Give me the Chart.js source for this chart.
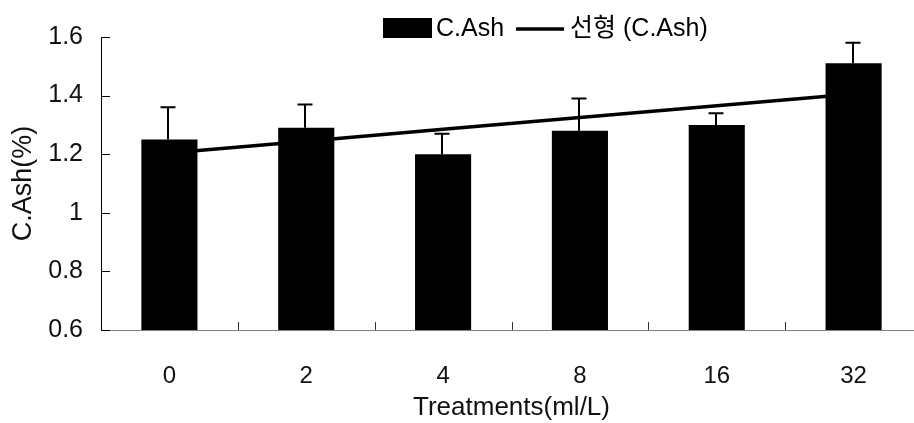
<!DOCTYPE html>
<html>
<head>
<meta charset="utf-8">
<script src="https://cdn.jsdelivr.net/npm/chart.js@4/dist/chart.umd.min.js"></script>
<style>
  html, body { margin: 0; padding: 0; background: #fff; overflow: hidden; }
  #wrap { width: 922px; height: 423px; position: relative; }
</style>
</head>
<body>
<div id="wrap"><canvas id="chart"></canvas></div>
<script>
// Crude ash content by treatment concentration
const categories = ['0', '2', '4', '8', '16', '32'];
const ashMean = [1.25, 1.29, 1.20, 1.28, 1.30, 1.51];
const ashSD = [0.11, 0.08, 0.07, 0.11, 0.04, 0.07];
const yTickLabels = ['0.6', '0.8', '1', '1.2', '1.4', '1.6'];

const FONT = "'Liberation Sans', 'Noto Sans CJK KR', Arial, sans-serif";

// Least-squares linear trend of the means over category index
function linearTrend(values) {
  const n = values.length;
  const xs = values.map((_, i) => i);
  const mx = xs.reduce((a, b) => a + b, 0) / n;
  const my = values.reduce((a, b) => a + b, 0) / n;
  let sxy = 0, sxx = 0;
  xs.forEach((x, i) => { sxy += (x - mx) * (values[i] - my); sxx += (x - mx) * (x - mx); });
  const slope = sxy / sxx;
  const icpt = my - slope * mx;
  return xs.map(x => icpt + slope * x);
}
const ashTrend = linearTrend(ashMean);

// Axis lines and inward tick marks
const axesPlugin = {
  id: 'axes',
  afterDatasetsDraw(chart) {
    const { ctx, chartArea: a, scales: { x, y } } = chart;
    ctx.save();
    // x axis line
    ctx.strokeStyle = '#808080';
    ctx.lineWidth = 1.2;
    ctx.beginPath();
    ctx.moveTo(a.left, a.bottom + 0.5);
    ctx.lineTo(a.right, a.bottom + 0.5);
    ctx.stroke();
    // x ticks between categories
    ctx.strokeStyle = '#333';
    ctx.lineWidth = 1;
    const n = categories.length;
    for (let i = 1; i < n; i++) {
      const px = Math.round((x.getPixelForValue(i - 1) + x.getPixelForValue(i)) / 2) + 0.5;
      ctx.beginPath();
      ctx.moveTo(px, a.bottom);
      ctx.lineTo(px, a.bottom - 8);
      ctx.stroke();
    }
    // y axis line and ticks
    ctx.strokeStyle = '#000';
    ctx.lineWidth = 1;
    ctx.beginPath();
    ctx.moveTo(a.left + 0.5, a.top);
    ctx.lineTo(a.left + 0.5, a.bottom + 1);
    ctx.stroke();
    y.ticks.forEach(t => {
      const py = Math.round(y.getPixelForValue(t.value)) + 0.5;
      ctx.beginPath();
      ctx.moveTo(a.left, py);
      ctx.lineTo(a.left + 9, py);
      ctx.stroke();
    });
    ctx.restore();
  }
};

// Upper standard-deviation whiskers on the bars
const errorBarPlugin = {
  id: 'errorBars',
  afterDatasetsDraw(chart) {
    const { ctx, scales: { y } } = chart;
    const meta = chart.getDatasetMeta(0);
    ctx.save();
    ctx.strokeStyle = '#000';
    ctx.lineWidth = 2;
    meta.data.forEach((bar, i) => {
      const top = y.getPixelForValue(ashMean[i] + ashSD[i]);
      const cx = Math.round(bar.x) - 1;
      ctx.beginPath();
      ctx.moveTo(cx, bar.y);
      ctx.lineTo(cx, top);
      ctx.moveTo(cx - 7.5, top);
      ctx.lineTo(cx + 7.5, top);
      ctx.stroke();
    });
    ctx.restore();
  }
};

// Legend row: filled box for the bars, short line for the trend
const legendPlugin = {
  id: 'customLegend',
  afterDraw(chart) {
    const { ctx } = chart;
    const ds = chart.data.datasets;
    ctx.save();
    ctx.font = '25px ' + FONT;
    ctx.textBaseline = 'middle';
    ctx.fillStyle = '#000';
    let xPos = 383;
    const yMid = 28;
    ctx.fillRect(xPos, 18, 49, 20);
    xPos += 49 + 4;
    ctx.fillText(ds[0].label, xPos, yMid + 1);
    xPos += ctx.measureText(ds[0].label).width + 12;
    ctx.strokeStyle = '#000';
    ctx.lineWidth = 3.5;
    ctx.beginPath();
    ctx.moveTo(xPos, 29);
    ctx.lineTo(xPos + 48, 29);
    ctx.stroke();
    xPos += 48 + 6;
    ctx.fillText(ds[1].label, xPos, yMid + 1);
    ctx.restore();
  }
};

new Chart(document.getElementById('chart'), {
  data: {
    labels: categories,
    datasets: [
      {
        type: 'bar',
        label: 'C.Ash',
        data: ashMean,
        backgroundColor: '#000',
        borderWidth: 0,
        barPercentage: 0.41,
        categoryPercentage: 1.0,
        order: 1
      },
      {
        type: 'line',
        label: '선형 (C.Ash)',
        data: ashTrend,
        borderColor: '#000',
        borderWidth: 3.5,
        pointRadius: 0,
        fill: false,
        tension: 0,
        order: 2
      }
    ]
  },
  options: {
    responsive: true,
    maintainAspectRatio: false,
    animation: false,
    layout: { padding: { top: 37, right: 0, bottom: 0, left: 0 } },
    plugins: {
      legend: { display: false },
      tooltip: { enabled: false }
    },
    scales: {
      x: {
        grid: { display: false, drawTicks: false },
        border: { display: false },
        ticks: {
          color: '#111',
          font: { family: FONT, size: 24 },
          padding: 32
        },
        title: {
          display: true,
          text: 'Treatments(ml/L)',
          color: '#111',
          font: { family: FONT, size: 26 },
          padding: { top: 0, bottom: 0 }
        },
        afterFit(scale) { scale.height = 93; }
      },
      y: {
        min: 0.6,
        max: 1.6,
        grid: { display: false, drawTicks: false },
        border: { display: false },
        ticks: {
          stepSize: 0.2,
          color: '#111',
          font: { family: FONT, size: 25 },
          padding: 18,
          callback: (v, i) => yTickLabels[i]
        },
        title: {
          display: true,
          text: 'C.Ash(%)',
          color: '#111',
          font: { family: FONT, size: 27 },
          padding: { top: 7, bottom: 0 }
        },
        afterFit(scale) { scale.width = 101; }
      }
    }
  },
  plugins: [axesPlugin, errorBarPlugin, legendPlugin]
});
</script>
</body>
</html>
